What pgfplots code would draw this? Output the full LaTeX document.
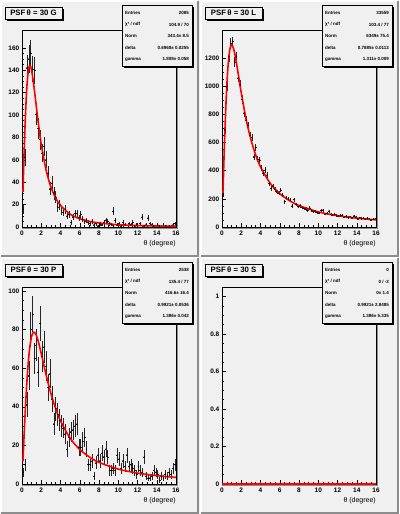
\documentclass[border=0pt]{standalone}
\usepackage{fontspec}
\setmainfont{Liberation Sans}
\usepackage{pgfplots}
\usepackage{pgfplotstable}
\pgfplotsset{compat=1.18}

\definecolor{padbg}{RGB}{240,240,240}
\definecolor{paddark}{RGB}{140,140,140}
\definecolor{fitred}{RGB}{255,0,0}

% histogram bins: centre, content, error
\pgfplotstableread{
x y e
0.1 16 4
0.3 62 7.9
0.5 142 11.9
0.7 150 12.2
0.9 155 12.4
1.1 141 11.9
1.3 140 11.8
1.5 101 10
1.7 88 9.4
1.9 78 8.8
2.1 66 8.1
2.3 72 8.5
2.5 60 7.7
2.7 48 6.9
2.9 34 5.8
3.1 39 6.2
3.3 30 5.5
3.5 27 5.2
3.7 18 4.2
3.9 20 4.5
4.1 15 3.9
4.3 13 3.6
4.5 16 4
4.7 10 3.2
4.9 11 3.3
5.1 4 2
5.3 9 3
5.5 12 3.5
5.7 12 3.5
5.9 8 2.8
6.1 11 3.3
6.3 7 2.6
6.5 5 2.2
6.7 6 2.4
6.9 4 2
7.1 3 1.7
7.3 5 2.2
7.5 2 1.4
7.7 3 1.7
7.9 1 1
8.1 3 1.7
8.3 2 1.4
8.5 4 2
8.7 6 2.4
8.9 5 2.2
9.1 3 1.7
9.3 2 1.4
9.5 14 3.7
9.7 6 2.4
9.9 2 1.4
10.1 3 1.7
10.3 1 1
10.5 4 2
10.7 2 1.4
11.1 3 1.7
11.3 2 1.4
11.5 4 2
11.7 1 1
11.9 2 1.4
12.3 3 1.7
12.5 9 3
12.7 1 1
12.9 2 1.4
13.1 8 2.8
13.3 3 1.7
13.5 2 1.4
13.7 1 1
14.1 2 1.4
14.3 1 1
14.7 2 1.4
14.9 1 1
15.3 1 1
15.7 2 1.4
15.9 3 1.7
}\dataG

\pgfplotstableread{
x y e
0.1 230 15.2
0.3 690 26.3
0.5 995 31.5
0.7 1210 34.8
0.9 1305 36.1
1.1 1316 36.3
1.3 1173 34.2
1.5 1207 34.7
1.7 1060 32.6
1.9 1010 31.8
2.1 905 30.1
2.3 810 28.5
2.5 760 27.6
2.7 720 26.8
2.9 650 25.5
3.1 635 25.2
3.3 499 22.3
3.5 565 23.8
3.7 480 21.9
3.9 476 21.8
4.1 420 20.5
4.3 385 19.6
4.5 405 20.1
4.7 370 19.2
4.9 310 17.6
5.1 275 16.6
5.3 290 17
5.5 265 16.3
5.7 250 15.8
5.9 240 15.5
6.1 263 16.2
6.3 225 15
6.5 180 13.4
6.7 205 14.3
6.9 198 14.1
7.1 192 13.9
7.3 150 12.2
7.5 195 14
7.7 160 12.6
7.9 145 12
8.1 150 12.2
8.3 140 11.8
8.5 132 11.5
8.7 128 11.3
8.9 118 10.9
9.1 135 11.6
9.3 120 11
9.5 112 10.6
9.7 110 10.5
9.9 104 10.2
10.1 100 10
10.3 118 10.9
10.5 120 11
10.7 92 9.6
10.9 95 9.7
11.1 112 10.6
11.3 90 9.5
11.5 84 9.2
11.7 90 9.5
11.9 80 8.9
12.1 78 8.8
12.3 80 8.9
12.5 85 9.2
12.7 70 8.4
12.9 75 8.7
13.1 68 8.2
13.3 72 8.5
13.5 65 8.1
13.7 78 8.8
13.9 70 8.4
14.1 58 7.6
14.3 66 8.1
14.5 60 7.7
14.7 62 7.9
14.9 55 7.4
15.1 63 7.9
15.3 58 7.6
15.5 50 7.1
15.7 54 7.3
15.9 57 7.5
}\dataL

\pgfplotstableread{
x y e
0.1 6 2.4
0.3 10 3.2
0.5 41 6.4
0.7 56 7.5
0.9 80 8.9
1.1 88 9.4
1.3 65 8.1
1.5 72 8.5
1.7 58 7.6
1.9 83 9.1
2.1 66 8.1
2.3 71 8.4
2.5 61 7.8
2.7 50 7.1
2.9 57 7.5
3.1 44 6.6
3.3 31 5.6
3.5 39 6.2
3.7 36 6
3.9 33 5.7
4.1 30 5.5
4.3 29 5.4
4.5 26 5.1
4.7 18 4.2
4.9 24 4.9
5.1 27 5.2
5.3 28 5.3
5.5 30 5.5
5.7 31 5.6
5.9 19 4.4
6.1 19 4.4
6.3 22 4.7
6.5 24 4.9
6.7 18 4.2
6.9 10 3.2
7.1 10 3.2
7.3 12 3.5
7.5 4 2
7.7 11 3.3
7.9 15 3.9
8.1 12 3.5
8.3 16 4
8.5 14 3.7
8.7 18 4.2
8.9 14 3.7
9.1 7 2.6
9.3 7 2.6
9.5 8 2.8
9.7 7 2.6
9.9 15 3.9
10.1 13 3.6
10.3 8 2.8
10.5 12 3.5
10.7 9 3
10.9 15 3.9
11.1 9 3
11.3 10 3.2
11.5 8 2.8
11.7 7 2.6
11.9 5 2.2
12.1 9 3
12.3 7 2.6
12.5 6 2.4
12.7 14 3.7
12.9 4 2
13.1 3 1.7
13.3 3 1.7
13.5 4 2
13.7 7 2.6
13.9 6 2.4
14.1 5 2.2
14.3 2 1.4
14.5 4 2
14.7 3 1.7
14.9 5 2.2
15.1 4 2
15.3 6 2.4
15.5 5 2.2
15.7 8 2.8
15.9 10 3.2
}\dataP

\pgfplotsset{
  psf/.style={
    anchor=south west, width=154pt, height=197pt, scale only axis,
    xmin=0, xmax=16, ymin=0,
    xtick distance=2, minor x tick num=3, minor y tick num=3,
    tick align=inside, xtick pos=bottom, ytick pos=left,
    major tick length=4pt, minor tick length=2pt,
    tick style={black, line width=0.5pt},
    axis line style={line width=0.6pt},
    axis background/.style={fill=padbg},
    /pgf/number format/assume math mode=true,
    /pgf/number format/1000 sep={},
    tick label style={font=\bfseries\fontsize{6.5}{7}\selectfont, inner sep=0pt},
    xticklabel style={anchor=north, yshift=-3.5pt},
    yticklabel style={anchor=east, xshift=-2.5pt},
    scaled y ticks=false,
  },
  hist/.style={only marks, mark=*, mark size=0.45pt, black,
    error bars/.cd, x dir=both, x fixed=0.1, y dir=both, y explicit,
    error mark=none, error bar style={line width=0.45pt, black!85}},
  fit/.style={fitred, line width=1.6pt, smooth, no marks},
}

\tikzset{
  stat/.style={font=\bfseries\fontsize{4.5}{5}\selectfont, inner sep=0pt},
}

\newcommand{\pad}[2]{%
\begin{scope}[shift={(#1pt,-#2pt)}]
  \fill[padbg] (0pt,0pt) rectangle (199pt,-257pt);
  \draw[white, line width=1.5pt] (1pt,-256pt) -- (1pt,-1pt) -- (198pt,-1pt);
  \draw[paddark, line width=1.5pt] (1pt,-256pt) -- (198pt,-256pt) -- (198pt,-1pt);
  \draw[paddark, line width=1pt] (22pt,-228pt) -- (177pt,-228pt) -- (177pt,-30pt);
\end{scope}}

\newcommand{\decor}[8]{%
\begin{scope}[shift={(#1pt,-#2pt)}]
  % title box
  \fill[black] (7pt,-9pt) rectangle (64pt,-21pt);
  \filldraw[fill=padbg, draw=black, line width=0.6pt] (5pt,-7pt) rectangle (62pt,-19pt);
  \node[font=\bfseries\fontsize{7.8}{8}\selectfont, inner sep=0pt] at (33.5pt,-13.2pt) {PSF\,θ = 30 #3};
  % stats box
  \fill[black] (124pt,-7pt) rectangle (194pt,-68pt);
  \filldraw[fill=padbg, draw=black, line width=0.6pt] (122pt,-5pt) rectangle (192pt,-66pt);
  \node[stat, anchor=west] at (125pt,-13.3pt) {Entries};
  \node[stat, anchor=east] at (189pt,-13.3pt) {#4};
  \node[stat, anchor=west] at (125pt,-24.5pt) {χ² / ndf};
  \node[stat, anchor=east] at (189pt,-24.5pt) {#5};
  \node[stat, anchor=west] at (125pt,-36.3pt) {Norm};
  \node[stat, anchor=east] at (189pt,-36.3pt) {#6};
  \node[stat, anchor=west] at (125pt,-48.2pt) {delta};
  \node[stat, anchor=east] at (189pt,-48.2pt) {#7};
  \node[stat, anchor=west] at (125pt,-59.3pt) {gamma};
  \node[stat, anchor=east] at (189pt,-59.3pt) {#8};
  % x axis title
  \node[font=\fontsize{7}{8}\selectfont, inner sep=0pt, anchor=east] at (176pt,-243.5pt) {θ (degree)};
\end{scope}}

\begin{document}
\begin{tikzpicture}
\path[use as bounding box] (0pt,0pt) rectangle (399pt,-514pt);
\fill[padbg] (0pt,0pt) rectangle (399pt,-514pt);
\pad{0}{0}
\pad{200}{0}
\pad{0}{257}
\pad{200}{257}

% G
\begin{axis}[psf, at={(22pt,-227pt)}, ymax=176, ytick={0,20,...,160}]
\addplot[hist] table[x=x, y=y, y error=e] {\dataG};
\addplot[fit] coordinates {(0.1,31.3) (0.2,60.7) (0.3,86.6) (0.4,108.0) (0.5,124.2)
  (0.6,135.4) (0.7,141.8) (0.8,144.2) (0.9,143.3) (1.0,139.9) (1.2,128.4) (1.4,114.1)
  (1.6,99.5) (1.8,85.9) (2.0,73.9) (2.5,50.9) (3.0,35.8) (3.5,25.9) (4,19.3) (5,11.5)
  (6,7.39) (7,5.05) (8,3.61) (10,2.05) (12,1.29) (14,0.87) (16,0.61)};
\end{axis}

% L
\begin{axis}[psf, at={(222pt,-227pt)}, ymax=1399, ytick={0,200,...,1200}]
\addplot[hist] table[x=x, y=y, y error=e] {\dataL};
\addplot[fit] coordinates {(0.1,240.3) (0.2,469.3) (0.3,677.3) (0.4,857.1) (0.5,1004.6)
  (0.6,1118.9) (0.7,1201.5) (0.8,1255.4) (0.9,1284.8) (1.0,1293.9) (1.2,1267.7)
  (1.4,1204.7) (1.6,1124.2) (1.8,1038.5) (2.0,954.2) (2.5,767.2) (3.0,622.2) (3.5,511.6)
  (4,427.3) (5,311.0) (6,237.2) (7,187.6) (8,152.5) (10,107.4) (12,80.4) (14,63.0) (16,50.8)};
\end{axis}

% P
\begin{axis}[psf, at={(22pt,-484pt)}, ymax=102, ytick={0,20,...,100}]
\addplot[hist] table[x=x, y=y, y error=e] {\dataP};
\addplot[fit] coordinates {(0.1,11.7) (0.2,23.1) (0.3,33.8) (0.4,43.6) (0.5,52.2)
  (0.6,59.6) (0.7,65.6) (0.8,70.4) (1.0,76.5) (1.2,78.6) (1.4,77.9) (1.6,75.4)
  (1.8,71.7) (2.0,67.5) (2.5,56.6) (3.0,46.9) (3.5,39.0) (4,32.7) (5,23.7) (6,17.9)
  (7,14.0) (8,11.2) (10,7.72) (12,5.65) (14,4.33) (16,3.44)};
\end{axis}

% S
\begin{axis}[psf, at={(222pt,-484pt)}, ymax=1.05, ytick={0,0.2,0.4,0.6,0.8,1},
  yticklabel style={/pgf/number format/fixed}]
\addplot[fit, sharp plot] coordinates {(0,0) (16,0)};
\end{axis}

\decor{0}{0}{G}{2085}{104.9 / 70}{343.4± 8.5}{0.6968± 0.0255}{1.808± 0.058}
\decor{200}{0}{L}{33559}{103.4 / 77}{6349± 75.4}{0.7885± 0.0113}{1.311± 0.009}
\decor{0}{257}{P}{2538}{135.4 / 77}{416.6± 16.4}{0.9921± 0.0536}{1.386± 0.042}
\decor{200}{257}{S}{0}{0 / -3}{0± 1.4}{0.9921± 2.8485}{1.386± 5.335}
\end{tikzpicture}
\end{document}
